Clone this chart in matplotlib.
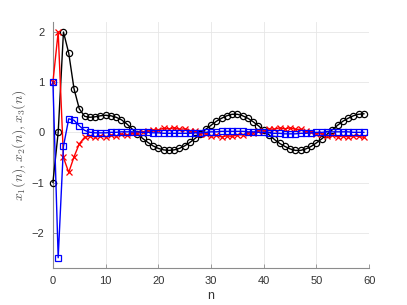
import matplotlib
matplotlib.use("Agg")
import matplotlib.pyplot as plt
import numpy as np

n = list(range(60))

x1 = [-1.0, 0.0, 2.0, 1.58, 0.87, 0.47, 0.32, 0.30, 0.31, 0.33,
      0.34, 0.33, 0.30, 0.25, 0.17, 0.07, -0.03, -0.12, -0.20, -0.27,
      -0.32, -0.35, -0.36, -0.35, -0.32, -0.27, -0.20, -0.12, -0.03, 0.06,
      0.14, 0.22, 0.28, 0.33, 0.36, 0.36, 0.33, 0.28, 0.21, 0.13,
      0.04, -0.05, -0.14, -0.22, -0.28, -0.33, -0.36, -0.36, -0.33, -0.28,
      -0.21, -0.13, -0.04, 0.05, 0.14, 0.22, 0.28, 0.33, 0.36, 0.37]

x2 = [1.0, 2.0, -0.50, -0.80, -0.49, -0.23, -0.10, -0.07, -0.09, -0.07,
      -0.09, -0.06, -0.07, -0.04, -0.05, -0.02, -0.02, 0.01, 0.02, 0.05,
      0.05, 0.08, 0.07, 0.09, 0.06, 0.07, 0.03, 0.02, -0.03, -0.03,
      -0.07, -0.06, -0.09, -0.07, -0.08, -0.05, -0.05, -0.01, -0.01, 0.03,
      0.03, 0.07, 0.06, 0.09, 0.07, 0.09, 0.06, 0.06, 0.02, 0.01,
      -0.03, -0.03, -0.07, -0.06, -0.09, -0.07, -0.09, -0.07, -0.08, -0.10]

x3 = [1.0, -2.5, -0.28, 0.27, 0.24, 0.13, 0.04, 0.00, -0.01, -0.01,
      -0.01, 0.00, 0.00, 0.01, 0.01, 0.01, 0.01, 0.00, 0.00, -0.01,
      -0.01, -0.02, -0.02, -0.02, -0.02, -0.02, -0.02, -0.01, -0.01, 0.00,
      0.01, 0.01, 0.02, 0.02, 0.02, 0.02, 0.02, 0.01, 0.01, 0.00,
      0.00, -0.01, -0.02, -0.02, -0.03, -0.03, -0.03, -0.02, -0.02, -0.01,
      0.00, 0.00, 0.01, 0.01, 0.01, 0.01, 0.01, 0.00, 0.00, 0.00]

xticks = [0, 10, 20, 30, 40, 50, 60]
yticks = [-2, -1, 0, 1, 2]

plt.rcParams['font.family'] = ['Liberation Sans', 'DejaVu Sans']
plt.rcParams['mathtext.fontset'] = 'cm'

fig = plt.figure(figsize=(4.07, 3.05), dpi=100)
ax = fig.add_axes([0.130, 0.122, 0.777, 0.806])

ax.plot(n, x1, color='black', marker='o', markersize=4.5, markerfacecolor='none',
        markeredgewidth=0.9, linewidth=1.0, zorder=3, clip_on=False)
ax.plot(n, x2, color='red', marker='x', markersize=4.5, markeredgewidth=0.9,
        linewidth=1.0, zorder=4, clip_on=False)
ax.plot(n, x3, color='blue', marker='s', markersize=3.8, markerfacecolor='none',
        markeredgewidth=0.9, linewidth=1.0, zorder=5, clip_on=False)

ax.set_xlim(0, 60)
ax.set_ylim(-2.7, 2.2)
ax.set_xticks(xticks)
ax.set_yticks(yticks)
ax.grid(True, color='#e6e6e6', linewidth=0.6)
ax.set_axisbelow(True)
for s in ['top', 'right']:
    ax.spines[s].set_visible(False)
for s in ['left', 'bottom']:
    ax.spines[s].set_color('#8c8c8c')
    ax.spines[s].set_linewidth(0.8)
ax.tick_params(axis='both', labelsize=8, colors='#8c8c8c', labelcolor='#333333',
               length=3, width=0.6, direction='in')
ax.tick_params(axis='x', pad=6)
ax.tick_params(axis='y', pad=6)
ax.set_xlabel('n', fontsize=9, color='#333333', labelpad=3)
ax.set_ylabel(r'$x_1(n),x_2(n),x_3(n)$', fontsize=10, color='#555555', labelpad=3)

fig.savefig('out.png', dpi=100)
